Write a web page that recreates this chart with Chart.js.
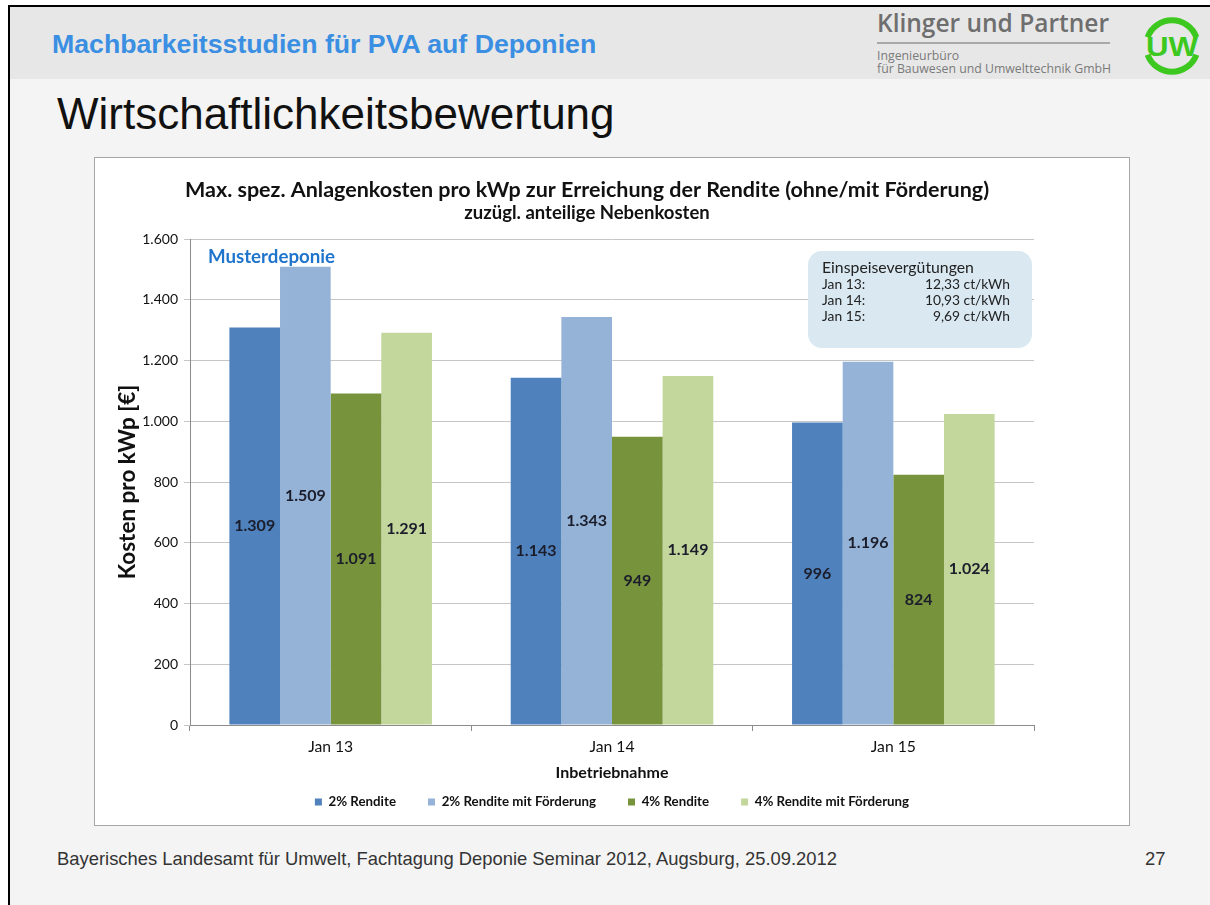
<!DOCTYPE html>
<html>
<head>
<meta charset="utf-8">
<script src="https://cdn.jsdelivr.net/npm/chart.js@4.4.1/dist/chart.umd.min.js"></script>
<style>
  html, body { margin: 0; padding: 0; }
  body { width: 1210px; height: 905px; position: relative; background: #ffffff; overflow: hidden;
         font-family: "Liberation Sans", Arial, sans-serif; }
  #slide { position: absolute; left: 8px; top: 5px; width: 1202px; height: 900px; background: #f4f4f4;
           border-top: 2px solid #000; border-left: 2px solid #000; box-sizing: border-box; }
  #band { position: absolute; left: 10px; top: 7px; width: 1200px; height: 72px; background: #e7e7e7; }
  .abs { position: absolute; white-space: nowrap; line-height: 1; }
  #head { left: 52px; top: 30.5px; font-size: 26.7px; font-weight: bold; color: #3b8fe2; }
  #firm { left: 877px; top: 11px; font-family: "Open Sans", sans-serif; font-size: 24.5px; font-weight: 600; color: #6e6e6e; }
  #rule { position: absolute; left: 877px; top: 42px; width: 233px; height: 2px; background: #a8a8a8; }
  #sub1 { left: 877px; top: 50px; font-family: "Open Sans", sans-serif; font-size: 12.3px; color: #7a7a7a; }
  #sub2 { left: 877px; top: 63px; font-family: "Open Sans", sans-serif; font-size: 12.3px; color: #7a7a7a; }
  #logo { position: absolute; left: 1140px; top: 13px; }
  #big { left: 57px; top: 92px; font-size: 44px; color: #111; }
  #box { position: absolute; left: 94px; top: 157px; width: 1036px; height: 669px; background: #fff;
         border: 1px solid #a6a6a6; box-sizing: border-box; }
  #chart { position: absolute; left: 95px; top: 158px; }
  #foot { left: 57px; top: 850px; font-size: 18.4px; color: #333; }
  #page { left: 1145px; top: 850px; font-size: 18.4px; color: #333; }
</style>
</head>
<body>
<div id="slide"></div>
<div id="band"></div>
<div id="head" class="abs">Machbarkeitsstudien für PVA auf Deponien</div>
<div id="firm" class="abs">Klinger und Partner</div>
<div id="rule"></div>
<div id="sub1" class="abs">Ingenieurbüro</div>
<div id="sub2" class="abs">für Bauwesen und Umwelttechnik GmbH</div>
<svg id="logo" width="64" height="66" viewBox="0 0 64 66">
  <path d="M 7.6 24.3 A 26 26 0 0 1 56.4 24.3" fill="none" stroke="#3cc81e" stroke-width="6"/>
  <path d="M 7.6 41.7 A 26 26 0 0 0 56.4 41.7" fill="none" stroke="#3cc81e" stroke-width="6"/>
  <text x="32" y="43" text-anchor="middle" font-family="Liberation Sans, Arial" font-weight="bold"
        font-size="28" fill="#3cc81e" textLength="52" lengthAdjust="spacingAndGlyphs">UW</text>
</svg>
<div id="big" class="abs">Wirtschaftlichkeitsbewertung</div>
<div id="box"></div>
<canvas id="chart" width="1034" height="667"></canvas>
<div id="foot" class="abs">Bayerisches Landesamt für Umwelt, Fachtagung Deponie Seminar 2012, Augsburg, 25.09.2012</div>
<div id="page" class="abs">27</div>

<script>
// Commissioning dates (categories)
const categories = ['Jan 13', 'Jan 14', 'Jan 15'];

// Maximum specific system cost per kWp [€]
const rendite2 = [1309, 1143, 996];
const rendite2Foerderung = [1509, 1343, 1196];
const rendite4 = [1091, 949, 824];
const rendite4Foerderung = [1291, 1149, 1024];

const seriesNames = ['2% Rendite', '2% Rendite mit Förderung', '4% Rendite', '4% Rendite mit Förderung'];
const seriesColors = ['#4f81bd', '#95b3d7', '#77933c', '#c3d69b'];

// Y axis ticks
const yTicks = [0, 200, 400, 600, 800, 1000, 1200, 1400, 1600];

// Feed-in tariffs shown in the info box
const tariffTitle = 'Einspeisevergütungen';
const tariffDates = ['Jan 13:', 'Jan 14:', 'Jan 15:'];
const tariffValues = ['12,33 ct/kWh', '10,93 ct/kWh', '9,69 ct/kWh'];

const siteLabel = 'Musterdeponie';

const FONT = 'Lato, "Open Sans", sans-serif';

function fmt(v) {
  return String(v).replace(/\B(?=(\d{3})+(?!\d))/g, '.');
}

// Value labels centred inside each bar
const barLabels = {
  id: 'barLabels',
  afterDatasetsDraw(chart) {
    const ctx = chart.ctx;
    ctx.save();
    ctx.font = 'bold 16px ' + FONT;
    ctx.fillStyle = '#1b1d2b';
    ctx.textAlign = 'center';
    ctx.textBaseline = 'middle';
    chart.data.datasets.forEach((ds, i) => {
      chart.getDatasetMeta(i).data.forEach((bar, j) => {
        ctx.fillText(fmt(ds.data[j]), bar.x, (bar.y + bar.base) / 2);
      });
    });
    ctx.restore();
  }
};

// Site name and tariff box inside the plot area
const annotations = {
  id: 'annotations',
  afterDatasetsDraw(chart) {
    const ctx = chart.ctx;
    const a = chart.chartArea;
    ctx.save();
    ctx.font = 'bold 18.7px ' + FONT;
    ctx.fillStyle = '#1f74cc';
    ctx.textAlign = 'left';
    ctx.textBaseline = 'middle';
    ctx.fillText(siteLabel, a.left + 18, a.top + 18);

    const w = 224, h = 97, r = 14;
    const x = a.right - w - 2, y = a.top + 12;
    ctx.fillStyle = '#d9e8f1';
    ctx.beginPath();
    ctx.roundRect(x, y, w, h, r);
    ctx.fill();

    ctx.fillStyle = '#222';
    ctx.font = '15.8px ' + FONT;
    ctx.fillText(tariffTitle, x + 14, y + 17);
    ctx.font = '13.8px ' + FONT;
    tariffDates.forEach((d, i) => {
      const ty = y + 34 + i * 16;
      ctx.textAlign = 'left';
      ctx.fillText(d, x + 14, ty);
      ctx.textAlign = 'right';
      ctx.fillText(tariffValues[i], x + w - 22, ty);
    });
    ctx.restore();
  }
};

const datasets = [rendite2, rendite2Foerderung, rendite4, rendite4Foerderung].map((d, i) => ({
  label: seriesNames[i],
  data: d,
  backgroundColor: seriesColors[i],
  borderWidth: 0,
  categoryPercentage: 0.72,
  barPercentage: 1.0
}));

new Chart(document.getElementById('chart'), {
  type: 'bar',
  data: { labels: categories, datasets },
  plugins: [barLabels, annotations],
  options: {
    responsive: false,
    animation: false,
    layout: { padding: { left: 0, right: 50, top: 0, bottom: 6.35 } },
    plugins: {
      title: {
        display: true,
        text: 'Max. spez. Anlagenkosten pro kWp zur Erreichung der Rendite (ohne/mit Förderung)',
        color: '#111',
        font: { family: FONT, size: 21.5, weight: 'bold', lineHeight: 1.2 },
        padding: { top: 19.1, bottom: 0 }
      },
      subtitle: {
        display: true,
        text: 'zuzügl. anteilige Nebenkosten',
        color: '#111',
        font: { family: FONT, size: 18.5, weight: 'bold', lineHeight: 1.1 },
        padding: { top: 0, bottom: 15.75 }
      },
      legend: {
        position: 'bottom',
        fullSize: false,
        labels: {
          boxWidth: 7,
          boxHeight: 7,
          padding: 32,
          color: '#111',
          font: { family: FONT, size: 13.3, weight: 'bold' }
        }
      },
      tooltip: { enabled: false }
    },
    scales: {
      x: {
        grid: { offset: true, drawOnChartArea: false, tickLength: 6, color: '#8c8c8c' },
        border: { color: '#8c8c8c' },
        ticks: { padding: 7, color: '#111', font: { family: FONT, size: 15.7 } },
        title: {
          display: true,
          text: 'Inbetriebnahme',
          color: '#111',
          font: { family: FONT, size: 16, weight: 'bold', lineHeight: 1.2 },
          padding: { top: 0, bottom: -19.25 }
        },
        afterFit(s) { s.height = 38.35; }
      },
      y: {
        min: 0,
        max: 1600,
        afterBuildTicks(s) { s.ticks = yTicks.map(v => ({ value: v })); },
        grid: { color: '#c6c6c6', tickLength: 6 },
        border: { color: '#8c8c8c' },
        ticks: { padding: 6, color: '#111', font: { family: FONT, size: 14 }, callback: v => fmt(v) },
        title: {
          display: true,
          text: 'Kosten pro kWp [€]',
          color: '#111',
          font: { family: FONT, size: 22.5, weight: 'bold', lineHeight: 1.2 },
          padding: { top: 19.5, bottom: 0 }
        },
        afterFit(s) { s.width = 95; }
      },
      spacer: {
        position: 'right',
        display: true,
        grid: { display: false },
        border: { display: false },
        ticks: { display: false },
        afterFit(s) { s.width = 45; }
      }
    }
  }
});
</script>
</body>
</html>
